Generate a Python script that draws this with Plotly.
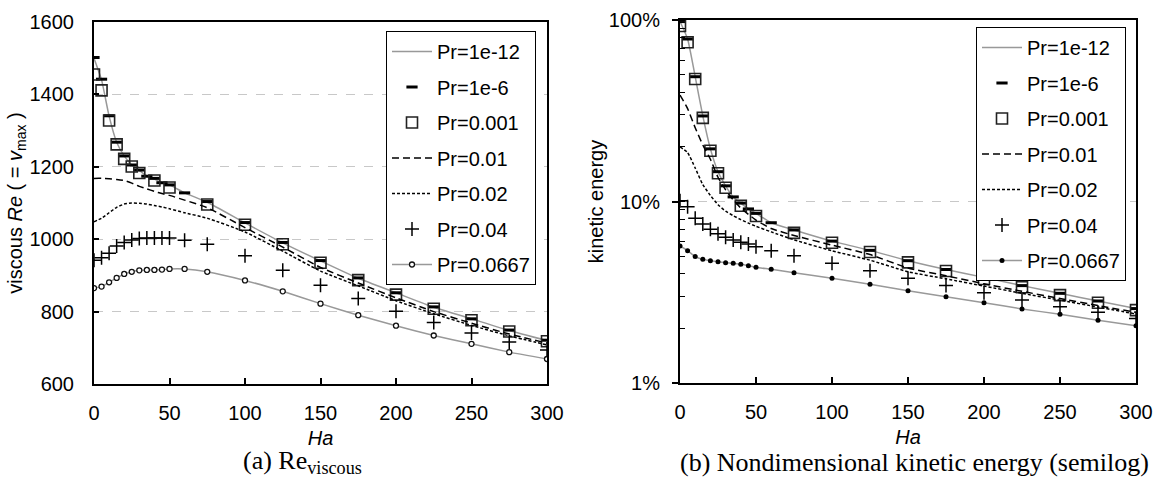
import plotly.graph_objects as go

# ---------------- data ----------------
ha = [0, 5, 10, 15, 20, 25, 30, 35, 40, 45, 50, 60, 75, 100, 125, 150, 175, 200, 225, 250, 275, 300]
ha_sq = [0, 5, 10, 15, 20, 25, 30, 40, 50, 75, 100, 125, 150, 175, 200, 225, 250, 275, 300]

series_names = ["Pr=1e-12", "Pr=1e-6", "Pr=0.001", "Pr=0.01", "Pr=0.02", "Pr=0.04", "Pr=0.0667"]

# (a) viscous Re
re_pr1e12 = [1500, 1440, 1340, 1268, 1230, 1205, 1190, 1174, 1166, 1156, 1150, 1128, 1102, 1045, 990, 940, 892, 852, 812, 780, 748, 720]
re_pr1e6 = [1502, 1442, 1341, 1268, 1230, 1205, 1191, 1174, 1168, 1156, 1150, 1128, 1104, 1046, 991, 941, 893, 852, 813, 780, 749, 721]
re_pr001 = [1455, 1411, 1328, 1262, 1222, 1201, 1183, 1162, 1143, 1096, 1040, 986, 935, 887, 847, 808, 776, 745, 718]
re_pr01 = [1168, 1168, 1167, 1165, 1162, 1155, 1146, 1139, 1132, 1126, 1121, 1108, 1087, 1032, 978, 922, 879, 838, 800, 768, 738, 713]
re_pr02 = [1048, 1058, 1073, 1088, 1097, 1100, 1099, 1097, 1093, 1089, 1084, 1073, 1058, 1020, 967, 912, 871, 830, 794, 762, 733, 708]
re_pr04 = [942, 949, 961, 981, 991, 998, 1002, 1003, 1003, 1003, 1003, 997, 986, 954, 914, 873, 836, 801, 770, 741, 716, 694]
re_pr0667 = [865, 869, 881, 893, 904, 910, 914, 915, 915, 916, 918, 918, 910, 886, 856, 822, 790, 761, 734, 711, 688, 669]

# (b) kinetic energy, percent
ke_pr1e12 = [98, 78.6, 48.7, 29.6, 19.5, 14.6, 12.2, 10.6, 9.8, 9.1, 8.6, 7.64, 6.97, 6.05, 5.38, 4.72, 4.22, 3.82, 3.44, 3.12, 2.83, 2.57]
ke_pr1e6 = [98, 78.6, 48.7, 29.6, 19.5, 14.6, 12.2, 10.6, 9.8, 9.1, 8.6, 7.64, 6.97, 6.05, 5.38, 4.72, 4.22, 3.82, 3.44, 3.12, 2.83, 2.57]
ke_pr001 = [92.7, 75.4, 47.3, 28.9, 19.05, 14.3, 11.9, 9.48, 8.32, 6.72, 5.93, 5.27, 4.62, 4.14, 3.74, 3.37, 3.05, 2.77, 2.52]
ke_pr01 = [38.6, 32.5, 25.5, 20.5, 17.1, 13.6, 11.6, 10.2, 9.2, 8.5, 7.9, 7.1, 6.5, 5.75, 5.1, 4.3, 3.9, 3.52, 3.2, 2.92, 2.67, 2.45]
ke_pr02 = [20, 18.6, 15.3, 12.4, 10.8, 9.6, 8.85, 8.35, 7.95, 7.6, 7.3, 6.8, 6.15, 5.35, 4.75, 4.1, 3.75, 3.42, 3.12, 2.86, 2.62, 2.40]
ke_pr04 = [10.1, 9.36, 8.08, 7.52, 7.03, 6.65, 6.35, 6.14, 5.96, 5.83, 5.64, 5.36, 5.03, 4.57, 4.16, 3.78, 3.44, 3.14, 2.87, 2.63, 2.45, 2.27]
ke_pr0667 = [5.69, 5.36, 4.97, 4.8, 4.72, 4.66, 4.60, 4.57, 4.51, 4.43, 4.34, 4.23, 4.05, 3.78, 3.50, 3.22, 2.99, 2.77, 2.56, 2.39, 2.22, 2.07]

x_ticks = [0, 50, 100, 150, 200, 250, 300]
re_ticks = [600, 800, 1000, 1200, 1400, 1600]
ke_ticks = [1, 10, 100]
ke_ticktext = ["1%", "10%", "100%"]

# ---------------- styling ----------------
FONT = "Arial, 'Liberation Sans', sans-serif"
SERIF = "'Times New Roman', 'Liberation Serif', serif"
GRAY = "#999999"
FS = 20

fig = go.Figure()


def add_panel(xa, ya, legend, ys, left):
    l12, l6, l001, l01, l02, l04, l0667 = ys
    fig.add_trace(go.Scatter(x=ha, y=l12, name=series_names[0], mode="lines",
                             line=dict(color=GRAY, width=1.5, shape="spline", smoothing=0.5),
                             xaxis=xa, yaxis=ya, legend=legend, legendgroup=legend + "a"))
    fig.add_trace(go.Scatter(x=ha, y=l6, name=series_names[1], mode="markers",
                             marker=dict(symbol="line-ew", size=8, line=dict(color="black", width=3)),
                             xaxis=xa, yaxis=ya, legend=legend, legendgroup=legend + "b"))
    fig.add_trace(go.Scatter(x=ha_sq, y=l001, name=series_names[2], mode="markers",
                             marker=dict(symbol="square-open", size=11, color="#222222", line=dict(width=1.6)),
                             xaxis=xa, yaxis=ya, legend=legend, legendgroup=legend + "c"))
    fig.add_trace(go.Scatter(x=ha, y=l01, name=series_names[3], mode="lines",
                             line=dict(color="black", width=1.5, dash="7px,4px", shape="spline", smoothing=0.5),
                             xaxis=xa, yaxis=ya, legend=legend, legendgroup=legend + "d"))
    fig.add_trace(go.Scatter(x=ha, y=l02, name=series_names[4], mode="lines",
                             line=dict(color="black", width=1.5, dash="3px,2px", shape="spline", smoothing=0.5),
                             xaxis=xa, yaxis=ya, legend=legend, legendgroup=legend + "e"))
    fig.add_trace(go.Scatter(x=ha, y=l04, name=series_names[5], mode="markers",
                             marker=dict(symbol="cross-thin", size=10, line=dict(color="black", width=1.5)),
                             xaxis=xa, yaxis=ya, legend=legend, legendgroup=legend + "f"))
    if left:
        mk = dict(symbol="circle", size=5, color="white", line=dict(color="#111111", width=1.3))
    else:
        mk = dict(symbol="circle", size=5, color="black", line=dict(color="black", width=0))
    fig.add_trace(go.Scatter(x=ha, y=l0667, name=series_names[6], mode="lines+markers",
                             line=dict(color=GRAY, width=1.5, shape="spline", smoothing=0.5),
                             marker=mk,
                             xaxis=xa, yaxis=ya, legend=legend, legendgroup=legend + "g"))


add_panel("x", "y", "legend",
          [re_pr1e12, re_pr1e6, re_pr001, re_pr01, re_pr02, re_pr04, re_pr0667], True)
add_panel("x2", "y2", "legend2",
          [ke_pr1e12, ke_pr1e6, ke_pr001, ke_pr01, ke_pr02, ke_pr04, ke_pr0667], False)

W, H = 1155, 484
yd = [1 - 384 / H, 1 - 22 / H]
yd2 = [1 - 383 / H, 1 - 20 / H]

xaxis_common = dict(
    range=[0, 300], tickvals=x_ticks, ticks="inside", ticklen=6, tickwidth=1.5, tickcolor="black",
    showline=True, linecolor="black", linewidth=2, mirror=True, showgrid=False, zeroline=False,
    automargin=False,
    tickfont=dict(family=FONT, size=FS, color="black"), ticklabelstandoff=10,
    title=dict(text="<i>Ha</i>", font=dict(family=FONT, size=FS, color="black"), standoff=8),
)

fig.update_layout(
    width=W, height=H,
    margin=dict(l=0, r=0, t=0, b=0, autoexpand=False),
    paper_bgcolor="white", plot_bgcolor="white",
    showlegend=True,
    xaxis=dict(domain=[94 / W, 547 / W], anchor="y", **xaxis_common),
    xaxis2=dict(domain=[680 / W, 1136 / W], anchor="y2", **xaxis_common),
    yaxis=dict(domain=yd, anchor="x", range=[600, 1600], tickvals=re_ticks, automargin=False,
               ticks="inside", ticklen=5, tickwidth=1.5, tickcolor="black",
               showline=True, linecolor="black", linewidth=2, mirror=True,
               showgrid=True, gridcolor="#c8c8c8", griddash="dash", gridwidth=1, zeroline=False,
               tickfont=dict(family=FONT, size=FS, color="black"), ticklabelstandoff=14,
               title=dict(text="viscous <i>Re</i> ( = <i>v</i><sub>max</sub> )",
                          font=dict(family=FONT, size=FS, color="black"), standoff=0)),
    yaxis2=dict(domain=yd2, anchor="x2", type="log", range=[0, 2], tickvals=ke_ticks, ticktext=ke_ticktext,
                automargin=False,
                ticks="outside", ticklen=6, tickwidth=1.5, tickcolor="black",
                minor=dict(ticks="inside", ticklen=5, tickwidth=1.2, tickcolor="black", dtick="D1", showgrid=False),
                showline=True, linecolor="black", linewidth=2, mirror=True,
                showgrid=True, gridcolor="#c8c8c8", griddash="dash", gridwidth=1, zeroline=False,
                tickfont=dict(family=FONT, size=FS, color="black"), ticklabelstandoff=8,
                title=dict(text="kinetic energy", font=dict(family=FONT, size=FS, color="black"), standoff=0)),
    legend=dict(x=386 / W, y=1 - 31 / H, xanchor="left", yanchor="top",
                bgcolor="white", bordercolor="black", borderwidth=1,
                font=dict(family=FONT, size=FS, color="black"), tracegroupgap=6.5,
                itemwidth=40, entrywidth=115),
    legend2=dict(x=976 / W, y=1 - 27 / H, xanchor="left", yanchor="top",
                 bgcolor="white", bordercolor="black", borderwidth=1,
                 font=dict(family=FONT, size=FS, color="black"), tracegroupgap=6.5,
                 itemwidth=40, entrywidth=115),
    annotations=[
        dict(text="(a) Re<sub>viscous</sub>", x=302 / W, y=1 - 462 / H, xref="paper", yref="paper",
             showarrow=False, font=dict(family=SERIF, size=26, color="black"), xanchor="center", yanchor="middle"),
        dict(text="(b) Nondimensional kinetic energy (semilog)", x=914 / W, y=1 - 462 / H, xref="paper", yref="paper",
             showarrow=False, font=dict(family=SERIF, size=26, color="black"), xanchor="center", yanchor="middle"),
    ],
)

fig.write_html("out.html", config={"displayModeBar": False},
               post_script="document.body.style.margin='0px';")
